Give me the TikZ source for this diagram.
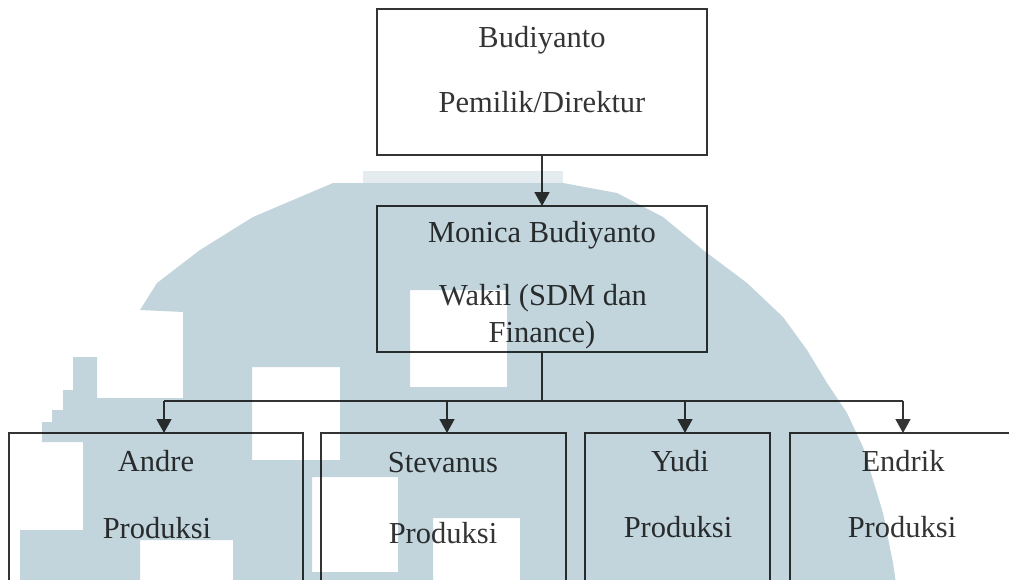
\documentclass[tikz,border=0pt]{standalone}
\usepackage{fontspec}
\setmainfont{Liberation Serif}
\usetikzlibrary{arrows.meta}
\definecolor{wmcol}{RGB}{194,212,220}
\definecolor{wmlight}{RGB}{228,236,240}
\definecolor{ink}{RGB}{52,52,52}
\begin{document}
\begin{tikzpicture}[x=1pt,y=-1pt,
  box/.style={draw=ink,line width=1.5pt,rectangle,inner sep=0pt,outer sep=0pt},
  lbl/.style={text=ink,font=\fontsize{30.5}{36}\selectfont,anchor=base,inner sep=0pt},
  arr/.style={draw=ink,line width=1.5pt,-{Triangle[length=14pt,width=15pt]}},
  conn/.style={draw=ink,line width=1.5pt}]
\useasboundingbox (0,0) rectangle (1009,579);
\clip (0,0) rectangle (1009,579);
\fill[white] (0,0) rectangle (1009,579);
% boxes
\node[box,minimum width=330pt,minimum height=146pt] (top) at (542,82) {};
\node[box,minimum width=330pt,minimum height=146pt] (mon) at (542,279) {};
\node[box,minimum width=294pt,minimum height=190pt] (andre) at (156,528) {};
\node[box,minimum width=245pt,minimum height=190pt] (stev) at (443.5,528) {};
\node[box,minimum width=185pt,minimum height=190pt] (yudi) at (677.5,528) {};
\node[box,minimum width=226pt,minimum height=190pt] (endrik) at (903,528) {};
% texts
\node[lbl] (t1) at (542,47) {Budiyanto};
\node[lbl] (t2) at (542,112) {Pemilik/Direktur};
\node[lbl] (m1) at (542,242) {Monica Budiyanto};
\node[lbl] (m2) at (543,305) {Wakil (SDM dan};
\node[lbl] (m3) at (542,342) {Finance)};
\node[lbl] (a1) at (156,471) {Andre};
\node[lbl] (a2) at (157,538) {Produksi};
\node[lbl] (s1) at (443,472) {Stevanus};
\node[lbl] (s2) at (443,543) {Produksi};
\node[lbl] (y1) at (680,471) {Yudi};
\node[lbl] (y2) at (678,537) {Produksi};
\node[lbl] (e1) at (903,471) {Endrik};
\node[lbl] (e2) at (902,537) {Produksi};
% connectors
\draw[arr] (top.south) -- (mon.north);
\coordinate (bus) at (542,401);
\coordinate (busL) at (164,401);
\coordinate (busR) at (903,401);
\draw[conn] (mon.south) -- (bus);
\draw[conn] (busL) -- (busR);
\draw[arr] (busL) -- ([xshift=8pt]andre.north);
\draw[arr] ([xshift=3.5pt]stev.north |- bus) -- ([xshift=3.5pt]stev.north);
\draw[arr] ([xshift=7.5pt]yudi.north |- bus) -- ([xshift=7.5pt]yudi.north);
\draw[arr] (busR) -- (endrik.north);
% watermark
\begin{scope}[blend mode=multiply]
\fill[wmlight] (363,171) rectangle (563,183);
\fill[wmcol,even odd rule]
  (333,183) -- (563,183) -- (617,193) -- (663,217) -- (703,250) -- (747,283)
  -- (783,317) -- (807,350) -- (827,383) -- (847,413) -- (863,447) -- (873,480)
  -- (883,513) -- (893,563) -- (897,590) -- (20,590) -- (20,530) -- (83,530)
  -- (83,442) -- (42,442) -- (42,422) -- (52,422) -- (52,410) -- (63,410)
  -- (63,390) -- (73,390) -- (73,357) -- (97,357) -- (97,398) -- (183,398)
  -- (183,312) -- (140,310) -- (157,283) -- (200,250) -- (253,217) -- cycle
  (410,290) rectangle (507,387)
  (252,367) rectangle (340,460)
  (312,477) rectangle (398,572)
  (433,518) rectangle (520,590)
  (140,540) rectangle (233,590);
\end{scope}
\end{tikzpicture}
\end{document}
